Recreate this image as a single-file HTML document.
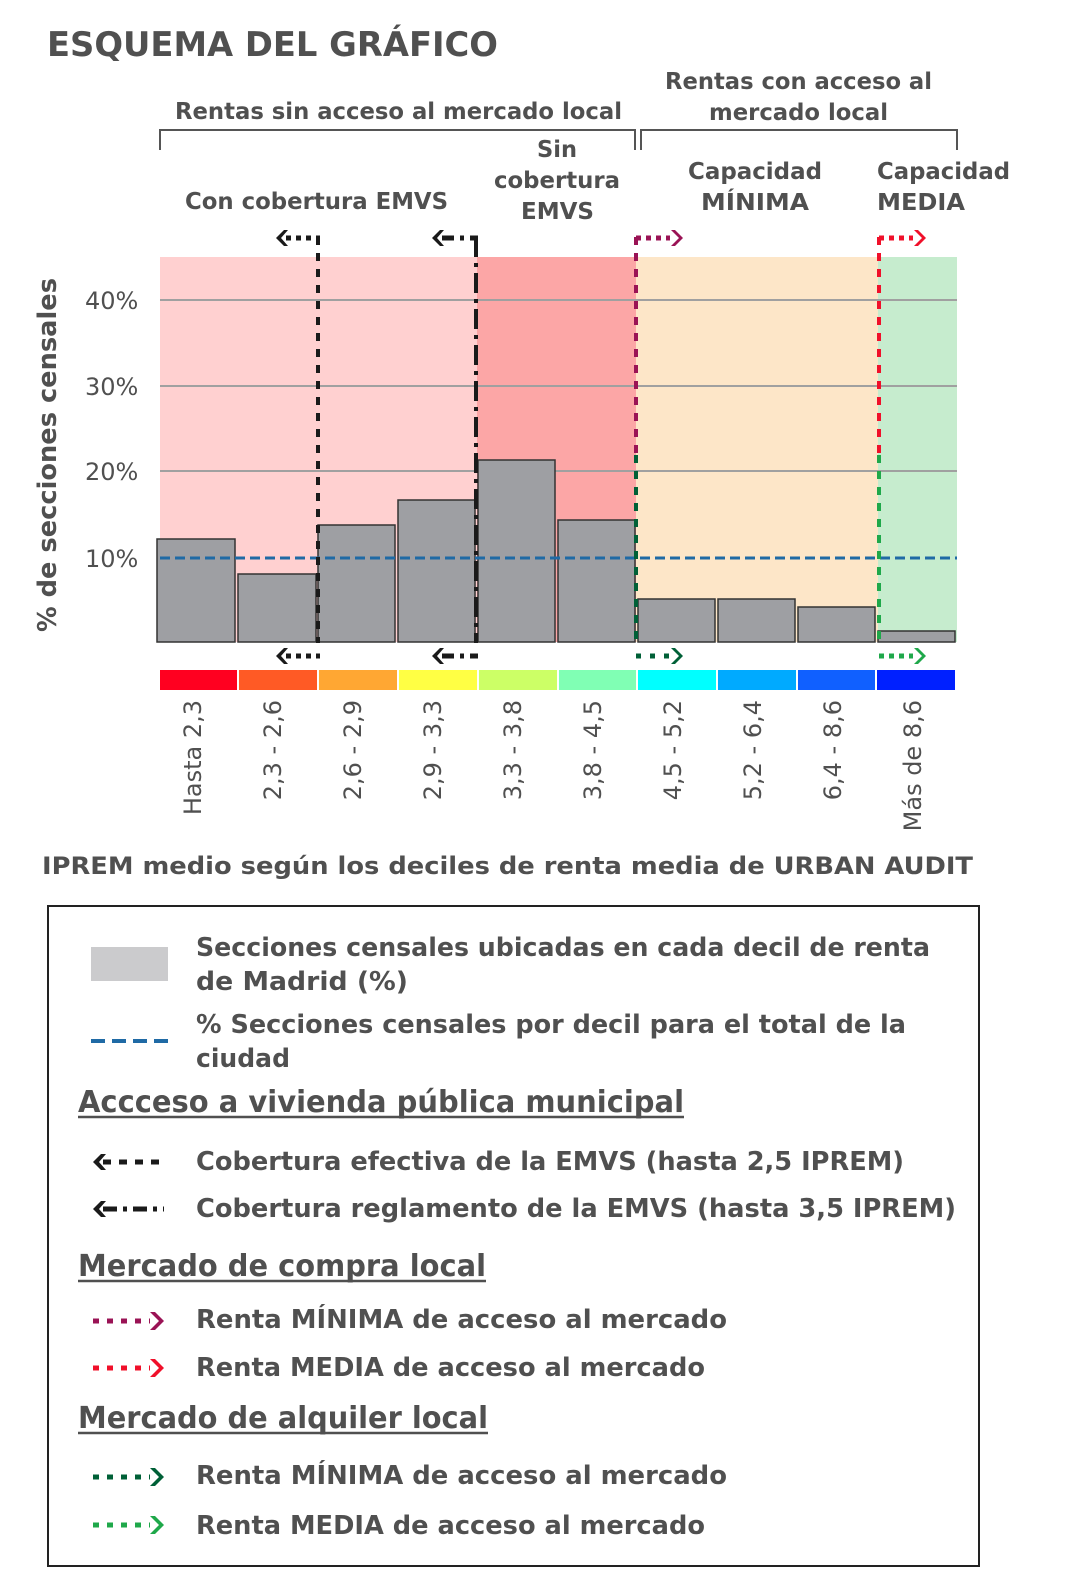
<!DOCTYPE html>
<html><head><meta charset="utf-8"><style>
html,body{margin:0;padding:0;background:#fff;}
svg{display:block;}
text{font-family:"DejaVu Sans","Liberation Sans",sans-serif;fill:#505050;}
.b{font-weight:bold;}
</style></head><body>
<svg width="1065" height="1596" viewBox="0 0 1065 1596" xmlns="http://www.w3.org/2000/svg">
<text class="b" x="47" y="56" font-size="34" textLength="451" lengthAdjust="spacingAndGlyphs">ESQUEMA DEL GRÁFICO</text>
<text class="b" x="175" y="119" font-size="23" textLength="447" lengthAdjust="spacingAndGlyphs">Rentas sin acceso al mercado local</text>
<text class="b" x="665" y="89" font-size="23" textLength="267" lengthAdjust="spacingAndGlyphs">Rentas con acceso al</text>
<text class="b" x="709" y="120" font-size="23" textLength="179" lengthAdjust="spacingAndGlyphs">mercado local</text>
<path d="M160 150V130H635V150M641 150V130H957V150" fill="none" stroke="#555" stroke-width="2"/>
<text class="b" x="185" y="209" font-size="23" textLength="263" lengthAdjust="spacingAndGlyphs">Con cobertura EMVS</text>
<text class="b" x="537" y="157" font-size="23" textLength="40" lengthAdjust="spacingAndGlyphs">Sin</text>
<text class="b" x="494" y="188" font-size="23" textLength="126" lengthAdjust="spacingAndGlyphs">cobertura</text>
<text class="b" x="521" y="219" font-size="23" textLength="73" lengthAdjust="spacingAndGlyphs">EMVS</text>
<text class="b" x="688" y="179" font-size="23" textLength="134" lengthAdjust="spacingAndGlyphs">Capacidad</text>
<text class="b" x="701" y="210" font-size="23" textLength="108" lengthAdjust="spacingAndGlyphs">MÍNIMA</text>
<text class="b" x="877" y="179" font-size="23" textLength="133" lengthAdjust="spacingAndGlyphs">Capacidad</text>
<text class="b" x="877" y="210" font-size="23" textLength="88" lengthAdjust="spacingAndGlyphs">MEDIA</text>
<rect x="160" y="257" width="317" height="385" fill="#ffd0d0"/>
<rect x="477" y="257" width="159" height="385" fill="#fca6a6"/>
<rect x="636" y="257" width="242" height="385" fill="#fde6c8"/>
<rect x="878" y="257" width="79" height="385" fill="#c6ecce"/>
<g stroke="#a0a0a0" stroke-width="2"><line x1="160" y1="300" x2="957" y2="300"/><line x1="160" y1="386" x2="957" y2="386"/><line x1="160" y1="471" x2="957" y2="471"/></g>
<g fill="#9e9fa3" stroke="#333" stroke-width="1.5">
<rect x="157" y="539" width="78" height="103"/><rect x="238" y="574" width="78" height="68"/>
<rect x="318" y="525" width="77" height="117"/><rect x="398" y="500" width="77" height="142"/>
<rect x="478" y="460" width="77" height="182"/><rect x="558" y="520" width="77" height="122"/>
<rect x="638" y="599" width="77" height="43"/><rect x="718" y="599" width="77" height="43"/>
<rect x="798" y="607" width="77" height="35"/><rect x="878" y="631" width="77" height="11"/>
</g>
<line x1="160" y1="558" x2="957" y2="558" stroke="#1f6aa5" stroke-width="3" stroke-dasharray="10,5"/>
<line x1="318" y1="237" x2="318" y2="643" stroke="#1a1a1a" stroke-width="4" stroke-dasharray="8,8"/>
<line x1="476" y1="237" x2="476" y2="643" stroke="#1a1a1a" stroke-width="4" stroke-dasharray="20,6,4,6"/>
<line x1="636" y1="237" x2="636" y2="455" stroke="#9a1355" stroke-width="4" stroke-dasharray="8,8"/>
<line x1="636" y1="455" x2="636" y2="640" stroke="#006037" stroke-width="4" stroke-dasharray="8,8"/>
<line x1="879" y1="237" x2="879" y2="455" stroke="#f0102a" stroke-width="4" stroke-dasharray="8,8"/>
<line x1="879" y1="455" x2="879" y2="640" stroke="#1fa84a" stroke-width="4" stroke-dasharray="8,8"/>
<g stroke-width="5">
<line x1="286" y1="238" x2="320" y2="238" stroke="#1a1a1a" stroke-dasharray="5,5"/>
<line x1="442" y1="238" x2="478" y2="238" stroke="#1a1a1a" stroke-dasharray="12,6,4,6"/>
<line x1="636" y1="238" x2="670" y2="238" stroke="#9a1355" stroke-dasharray="5,5"/>
<line x1="879" y1="238" x2="913" y2="238" stroke="#f0102a" stroke-dasharray="5,5"/>
<line x1="286" y1="656" x2="320" y2="656" stroke="#1a1a1a" stroke-dasharray="5,5"/>
<line x1="442" y1="656" x2="478" y2="656" stroke="#1a1a1a" stroke-dasharray="12,6,4,6"/>
<line x1="636" y1="656" x2="670" y2="656" stroke="#006037" stroke-dasharray="5,9"/>
<line x1="879" y1="656" x2="913" y2="656" stroke="#1fa84a" stroke-dasharray="5,5"/>
</g>
<g>
<path d="M284 230L276 238L284 246L288 246L281 238L288 230Z" fill="#1a1a1a"/>
<path d="M440 230L432 238L440 246L444 246L437 238L444 230Z" fill="#1a1a1a"/>
<path d="M671 230L679 238L671 246L675 246L683 238L675 230Z" fill="#9a1355"/>
<path d="M914 230L922 238L914 246L918 246L926 238L918 230Z" fill="#f0102a"/>
<path d="M284 648L276 656L284 664L288 664L281 656L288 648Z" fill="#1a1a1a"/>
<path d="M440 648L432 656L440 664L444 664L437 656L444 648Z" fill="#1a1a1a"/>
<path d="M671 648L679 656L671 664L675 664L683 656L675 648Z" fill="#006037"/>
<path d="M914 648L922 656L914 664L918 664L926 656L918 648Z" fill="#1fa84a"/>
</g>
<rect x="160" y="670" width="77" height="20" fill="#ff0020"/><rect x="239" y="670" width="78" height="20" fill="#ff5a25"/>
<rect x="319" y="670" width="78" height="20" fill="#ffa733"/><rect x="399" y="670" width="78" height="20" fill="#ffff44"/>
<rect x="479" y="670" width="78" height="20" fill="#ccff66"/><rect x="559" y="670" width="77" height="20" fill="#80ffb4"/>
<rect x="638" y="670" width="78" height="20" fill="#00ffff"/><rect x="718" y="670" width="78" height="20" fill="#00aaff"/>
<rect x="798" y="670" width="77" height="20" fill="#1060ff"/><rect x="877" y="670" width="78" height="20" fill="#0020ff"/>
<g font-size="24" fill="#444"><text x="85" y="309">40%</text><text x="85" y="395">30%</text><text x="85" y="480">20%</text><text x="85" y="567">10%</text></g>
<text class="b" transform="translate(56,632) rotate(-90)" font-size="26" textLength="354" lengthAdjust="spacingAndGlyphs">% de secciones censales</text>
<g font-size="24" fill="#444" text-anchor="end">
<text transform="translate(201,700) rotate(-90)">Hasta 2,3</text>
<text transform="translate(281,700) rotate(-90)">2,3 - 2,6</text>
<text transform="translate(361,700) rotate(-90)">2,6 - 2,9</text>
<text transform="translate(441,700) rotate(-90)">2,9 - 3,3</text>
<text transform="translate(521,700) rotate(-90)">3,3 - 3,8</text>
<text transform="translate(601,700) rotate(-90)">3,8 - 4,5</text>
<text transform="translate(681,700) rotate(-90)">4,5 - 5,2</text>
<text transform="translate(761,700) rotate(-90)">5,2 - 6,4</text>
<text transform="translate(841,700) rotate(-90)">6,4 - 8,6</text>
<text transform="translate(921,700) rotate(-90)">Más de 8,6</text>
</g>
<text class="b" x="42" y="874" font-size="24" textLength="931" lengthAdjust="spacingAndGlyphs">IPREM medio según los deciles de renta media de URBAN AUDIT</text>
<rect x="48" y="906" width="931" height="660" fill="none" stroke="#222" stroke-width="2"/>
<rect x="91" y="947" width="77" height="34" fill="#cbcbcd"/>
<line x1="91" y1="1041" x2="168" y2="1041" stroke="#1f6aa5" stroke-width="4" stroke-dasharray="14,7"/>
<g class="b" font-size="26" font-weight="bold">
<text x="196" y="956" textLength="734" lengthAdjust="spacingAndGlyphs">Secciones censales ubicadas en cada decil de renta</text>
<text x="196" y="990" textLength="212" lengthAdjust="spacingAndGlyphs">de Madrid (%)</text>
<text x="196" y="1033" textLength="710" lengthAdjust="spacingAndGlyphs">% Secciones censales por decil para el total de la</text>
<text x="196" y="1067" textLength="94" lengthAdjust="spacingAndGlyphs">ciudad</text>
<text x="196" y="1170" textLength="708" lengthAdjust="spacingAndGlyphs">Cobertura efectiva de la EMVS (hasta 2,5 IPREM)</text>
<text x="196" y="1217" textLength="760" lengthAdjust="spacingAndGlyphs">Cobertura reglamento de la EMVS (hasta 3,5 IPREM)</text>
<text x="196" y="1328" textLength="531" lengthAdjust="spacingAndGlyphs">Renta MÍNIMA de acceso al mercado</text>
<text x="196" y="1376" textLength="509" lengthAdjust="spacingAndGlyphs">Renta MEDIA de acceso al mercado</text>
<text x="196" y="1484" textLength="531" lengthAdjust="spacingAndGlyphs">Renta MÍNIMA de acceso al mercado</text>
<text x="196" y="1534" textLength="509" lengthAdjust="spacingAndGlyphs">Renta MEDIA de acceso al mercado</text>
</g>
<g font-size="30" font-weight="bold">
<text x="78" y="1112" textLength="606" lengthAdjust="spacingAndGlyphs">Accceso a vivienda pública municipal</text>
<text x="78" y="1276" textLength="408" lengthAdjust="spacingAndGlyphs">Mercado de compra local</text>
<text x="78" y="1428" textLength="410" lengthAdjust="spacingAndGlyphs">Mercado de alquiler local</text>
</g>
<g stroke="#505050" stroke-width="2.5"><line x1="78" y1="1117" x2="684" y2="1117"/><line x1="78" y1="1281" x2="486" y2="1281"/><line x1="78" y1="1433" x2="488" y2="1433"/></g>
<g stroke-width="5">
<line x1="103" y1="1162" x2="164" y2="1162" stroke="#1a1a1a" stroke-dasharray="8,8"/>
<line x1="103" y1="1209" x2="164" y2="1209" stroke="#1a1a1a" stroke-dasharray="14,6,4,6"/>
<line x1="93" y1="1321" x2="150" y2="1321" stroke="#9a1355" stroke-dasharray="6,8"/>
<line x1="93" y1="1368" x2="150" y2="1368" stroke="#f0102a" stroke-dasharray="6,8"/>
<line x1="93" y1="1477" x2="150" y2="1477" stroke="#006037" stroke-dasharray="6,8"/>
<line x1="93" y1="1525" x2="150" y2="1525" stroke="#1fa84a" stroke-dasharray="6,8"/>
</g>
<path d="M101 1154L93 1162L101 1170L106 1170L99 1162L106 1154Z" fill="#1a1a1a"/>
<path d="M101 1201L93 1209L101 1217L106 1217L99 1209L106 1201Z" fill="#1a1a1a"/>
<path d="M150 1312L159 1321L150 1330L155 1330L164 1321L155 1312Z" fill="#9a1355"/>
<path d="M150 1359L159 1368L150 1377L155 1377L164 1368L155 1359Z" fill="#f0102a"/>
<path d="M150 1468L159 1477L150 1486L155 1486L164 1477L155 1468Z" fill="#006037"/>
<path d="M150 1516L159 1525L150 1534L155 1534L164 1525L155 1516Z" fill="#1fa84a"/>
</svg>
</body></html>
